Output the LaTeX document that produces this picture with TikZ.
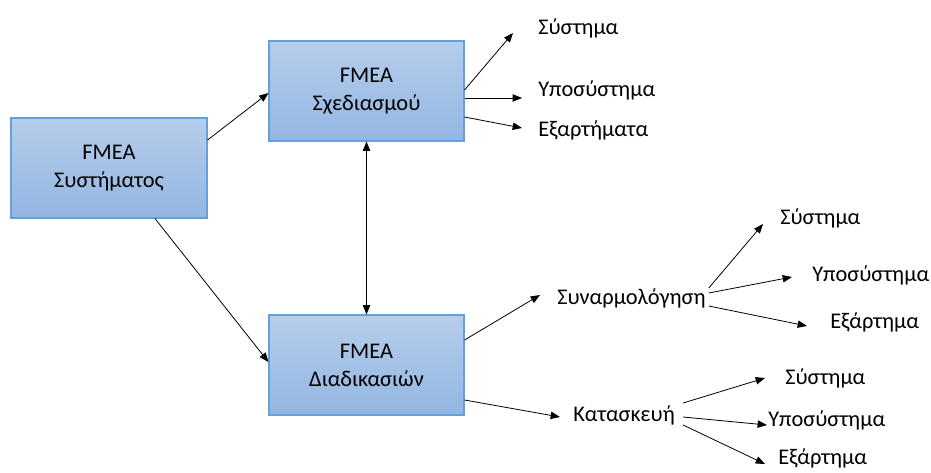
\documentclass[tikz,border=0pt]{standalone}
\usepackage{fontspec}
\setmainfont{Carlito}
\usetikzlibrary{arrows.meta,calc}
\definecolor{boxtop}{RGB}{182,205,235}
\definecolor{boxbot}{RGB}{146,182,226}
\definecolor{boxline}{RGB}{100,160,220}
\tikzset{
  fbox/.style={draw=boxline, line width=0.8pt, top color=boxtop, bottom color=boxbot,
    minimum width=147pt, minimum height=75pt, inner sep=0pt, align=center,
    font=\fontsize{16.8}{21}\selectfont},
  lbl/.style={anchor=west, inner sep=0pt, font=\fontsize{16.8}{20}\selectfont},
  arr/.style={-{Triangle[length=7pt,width=5.5pt]}, line width=0.6pt, black},
  darr/.style={{Triangle[length=7pt,width=5.5pt]}-{Triangle[length=7pt,width=5.5pt]}, line width=0.6pt, black}
}
\begin{document}
\begin{tikzpicture}[x=0.75pt,y=-0.75pt]
\useasboundingbox (0,0) rectangle (931,472);
\node[fbox, minimum width=147pt] (b1) at (109,168) {FMEA\\Συστήματος};
\node[fbox, minimum width=146.25pt] (b2) at (366.5,91) {FMEA\\Σχεδιασμού};
\node[fbox, minimum width=146.25pt] (b3) at (366.5,365) {FMEA\\Διαδικασιών};

\node[lbl] (t1) at (538,28) {Σύστημα};
\node[lbl] (t2) at (538,90) {Υποσύστημα};
\node[lbl] (t3) at (538,130) {Εξαρτήματα};

\node[lbl] (s) at (557,298) {Συναρμολόγηση};
\node[lbl] (s1) at (780,218) {Σύστημα};
\node[lbl] (s2) at (812,275) {Υποσύστημα};
\node[lbl] (s3) at (830,322) {Εξάρτημα};

\node[lbl] (k) at (573,415) {Κατασκευή};
\node[lbl] (k1) at (785,378) {Σύστημα};
\node[lbl] (k2) at (768,420) {Υποσύστημα};
\node[lbl] (k3) at (778,458) {Εξάρτημα};

\draw[arr] ($(b1.east)+(0,-28)$) -- ($(b2.west)+(0,2)$);
\draw[arr] ($(b1.south)+(46,0)$) -- ($(b3.west)+(0,-3)$);
\draw[darr] (b2.south) -- (b3.north);

\draw[arr] ($(b2.east)+(0,-1)$) -- ($(t1.west)+(-25,5)$);
\draw[arr] ($(b2.east)+(0,7)$) -- ($(t2.west)+(-16,8)$);
\draw[arr] ($(b2.east)+(0,26)$) -- ($(t3.west)+(-16,-2)$);

\draw[arr] ($(b3.east)+(0,-25)$) -- ($(s.west)+(-17,-3)$);
\draw[arr] ($(s.east)+(3,-10)$) -- ($(s1.west)+(-17,6)$);
\draw[arr] ($(s.east)+(3,-5)$) -- ($(s2.west)+(-20,2)$);
\draw[arr] ($(s.east)+(3,8)$) -- ($(s3.west)+(-23,4)$);

\draw[arr] ($(b3.east)+(0,35)$) -- ($(k.west)+(-13,2)$);
\draw[arr] ($(k.east)+(8,-12)$) -- ($(k1.west)+(-20,0)$);
\draw[arr] ($(k.east)+(8,2)$) -- ($(k2.west)+(-1,5)$);
\draw[arr] ($(k.east)+(8,10)$) -- ($(k3.west)+(-13,6)$);
\end{tikzpicture}
\end{document}
